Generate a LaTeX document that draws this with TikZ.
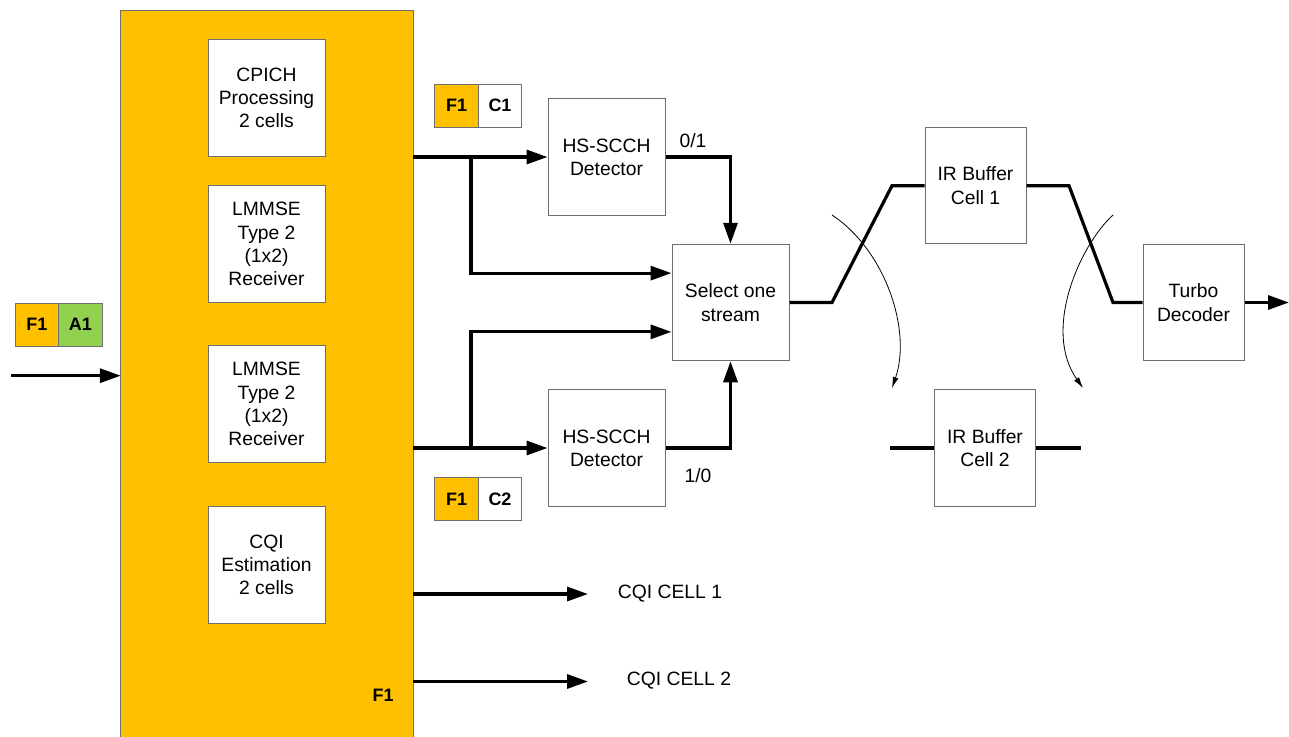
\documentclass[tikz,border=0pt]{standalone}
\usepackage{fontspec}
\setmainfont{Liberation Sans}
\usetikzlibrary{arrows.meta,calc}
\definecolor{gold}{HTML}{FFC000}
\definecolor{leaf}{HTML}{92D050}
\definecolor{edge}{HTML}{6E6E6E}
\begin{document}
\begin{tikzpicture}[x=1pt,y=-1pt,
  txt/.style={font=\fontsize{19.3}{23.2}\selectfont},
  box/.style={draw=edge,line width=1pt,fill=white,minimum width=117pt,minimum height=116.5pt,inner sep=0pt,align=center,txt},
  tag/.style={draw=edge,line width=1pt,minimum width=43.5pt,minimum height=43pt,inner sep=0pt,font=\fontsize{18}{20}\selectfont\bfseries},
  wire/.style={line width=3.2pt},
  arr/.style={wire,-{Triangle[length=21pt,width=14pt]}},
  swing/.style={line width=0.8pt,-{Latex[length=11pt,width=6pt]}}]
\useasboundingbox (0,0) rectangle (1289,736);
% main block
\node[fill=gold,minimum width=292pt,minimum height=726pt,inner sep=0pt] (main) at (267,374) {};
\draw[edge,line width=1pt] (main.south west) -- (main.north west) -- (main.north east) -- (main.south east);
\node[box] (cpich) at (266.5,98) {CPICH\\Processing\\2 cells};
\node[box] (lm1) at (266.5,244) {LMMSE\\Type 2\\(1x2)\\Receiver};
\node[box] (lm2) at (266.5,404) {LMMSE\\Type 2\\(1x2)\\Receiver};
\node[box] (cqi) at (266.5,565) {CQI\\Estimation\\2 cells};
\node[font=\fontsize{18}{20}\selectfont\bfseries] (f1) at (383,695) {F1};
% tags
\node[tag,fill=gold] (fa) at (37,324.5) {F1};
\node[tag,fill=leaf] (a1) at (80.5,324.5) {A1};
\node[tag,fill=gold] (fc1) at (456.5,105.5) {F1};
\node[tag,fill=white] (c1) at (500,105.5) {C1};
\node[tag,fill=gold] (fc2) at (456.5,499) {F1};
\node[tag,fill=white] (c2) at (500,499) {C2};
% right blocks
\node[box] (hs1) at (606.5,157) {HS-SCCH\\Detector};
\node[box] (hs2) at (606.5,448) {HS-SCCH\\Detector};
\node[box] (sel) at (730.5,302.5) {Select one\\stream};
\node[box,minimum width=101pt] (ir1) at (975.5,185.7) {IR Buffer\\Cell 1};
\node[box,minimum width=101pt] (ir2) at (985,448) {IR Buffer\\Cell 2};
\node[box,minimum width=101pt] (turbo) at (1193.5,302.5) {Turbo\\Decoder};
\node[txt] (l01) at (693,141) {0/1};
\node[txt] (l10) at (698,476) {1/0};
\node[txt] (cq1) at (670,594) {CQI CELL 1};
\node[txt] (cq2) at (679,681) {CQI CELL 2};
% coordinates
\coordinate (in) at (11,375.7);
\coordinate (b1) at (471,157);
\coordinate (b2) at (471,448);
\coordinate (s1) at ($(sel.north west)!0.25!(sel.south west)$);
\coordinate (s2) at ($(sel.north west)!0.75!(sel.south west)$);
\coordinate (k1) at (832,302.5);
\coordinate (k2) at (892,185.7);
\coordinate (k3) at (1069,185.7);
\coordinate (k4) at (1113,302.5);
\coordinate (out) at (1289,302.5);
\coordinate (q1) at (588,594);
\coordinate (q2) at (588,681.5);
\coordinate (e1) at (890,448);
\coordinate (e2) at (1081,448);
\coordinate (c1s) at (832,215);
\coordinate (c1e) at (892,388);
\coordinate (c2s) at (1113,215);
\coordinate (c2e) at (1083,388);
% connectors
\draw[arr] (in) -- (main.west |- in);
\draw[arr] (main.east |- hs1.west) -- (hs1.west);
\draw[arr] (main.east |- hs2.west) -- (hs2.west);
\draw[arr] (b1) |- (s1);
\draw[arr] (b2) |- (s2);
\draw[arr] (hs1.east) -| (sel.north);
\draw[arr] (hs2.east) -| (sel.south);
\draw[wire,line join=miter] (sel.east |- k1) -- (k1) -- (k2) -- (ir1.west);
\draw[wire,line join=miter] (ir1.east) -- (k3) -- (k4) -- (turbo.west |- k4);
\draw[arr] (turbo.east |- out) -- (out);
\draw[wire] (e1) -- (ir2.west);
\draw[wire] (ir2.east) -- (e2);
\draw[arr] (main.east |- q1) -- (q1);
\draw[arr] (main.east |- q2) -- (q2);
\draw[swing] (c1s) .. controls (885,250) and (912,330) .. (c1e);
\draw[swing] (c2s) .. controls (1080,245) and (1042,330) .. (c2e);
\end{tikzpicture}
\end{document}
